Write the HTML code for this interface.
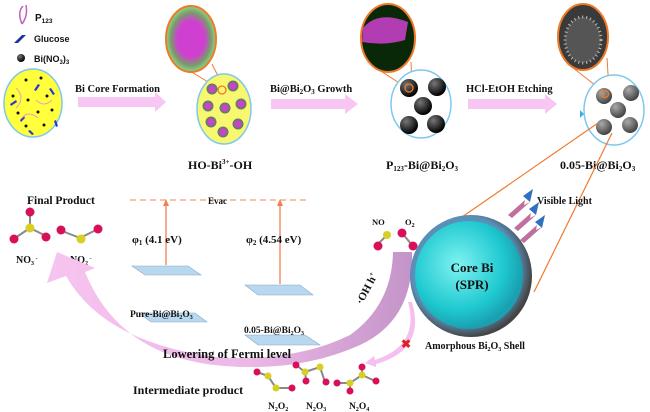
<!DOCTYPE html>
<html><head><meta charset="utf-8"><style>
html,body{margin:0;padding:0;background:#fff}
svg{display:block}
text{font-family:"Liberation Serif",serif;font-weight:bold;fill:#111}
.s{font-family:"Liberation Sans",sans-serif}
</style></head><body>
<svg width="650" height="412" viewBox="0 0 650 412" xmlns="http://www.w3.org/2000/svg">
<defs>
<linearGradient id="arc" x1="0" y1="0" x2="1" y2="0">
<stop offset="0" stop-color="#f7c4f0"/><stop offset="0.55" stop-color="#ecb8e6"/><stop offset="1" stop-color="#c494c8"/></linearGradient>
<radialGradient id="core" cx="0.4" cy="0.4" r="0.6"><stop offset="0" stop-color="#7ff2f2"/><stop offset="0.7" stop-color="#1fc9d0"/><stop offset="1" stop-color="#1aa0b0"/></radialGradient>
<radialGradient id="shell" cx="0.45" cy="0.45" r="0.55"><stop offset="0.8" stop-color="#5a8fb8"/><stop offset="1" stop-color="#444"/></radialGradient>
<radialGradient id="ball" cx="0.35" cy="0.3" r="0.7"><stop offset="0" stop-color="#777"/><stop offset="1" stop-color="#000"/></radialGradient>
<radialGradient id="gball" cx="0.35" cy="0.3" r="0.7"><stop offset="0" stop-color="#aaa"/><stop offset="1" stop-color="#444"/></radialGradient>
<radialGradient id="pk" cx="0.5" cy="0.5" r="0.5"><stop offset="0.4" stop-color="#d040d0"/><stop offset="1" stop-color="#4a8a4a"/></radialGradient>
<radialGradient id="pk2" cx="0.5" cy="0.5" r="0.5"><stop offset="0.55" stop-color="#d040d0"/><stop offset="0.8" stop-color="#7a9a6a"/><stop offset="1" stop-color="#8ad88a"/></radialGradient>
</defs>

<!-- legend -->
<path d="M22,24 Q17,12 23,6 M22,24 Q28,16 26,5" stroke="#c060c0" stroke-width="1.5" fill="none"/>
<text x="35" y="21" class="s" font-size="10">P<tspan font-size="6.5" dy="2">123</tspan></text>
<polygon points="14,43 22,35 26,35 18,43" fill="#2233aa"/>
<text x="34" y="42" class="s" font-size="9">Glucose</text>
<circle cx="21" cy="58" r="4" fill="url(#ball)"/>
<text x="34" y="62" class="s" font-size="9">Bi(NO<tspan font-size="6" dy="2">3</tspan><tspan dy="-2">)</tspan><tspan font-size="6" dy="2">3</tspan></text>

<!-- circle1 -->
<ellipse cx="33" cy="103" rx="29" ry="34" fill="#ffff3c" stroke="#7ec8ee" stroke-width="1.5"/>
<g fill="#111"><circle cx="26" cy="80" r="1.5"/><circle cx="41" cy="78" r="1.5"/><circle cx="13" cy="96" r="1.5"/><circle cx="28" cy="100" r="1.5"/><circle cx="47" cy="96" r="1.5"/><circle cx="18" cy="113" r="1.5"/><circle cx="38" cy="112" r="1.5"/><circle cx="52" cy="110" r="1.5"/><circle cx="26" cy="126" r="1.5"/><circle cx="44" cy="125" r="1.5"/></g>
<g fill="#2a3ad0"><polygon points="10,104 16,100 17,102 11,106"/><polygon points="34,90 38,84 40,85 36,91"/><polygon points="51,88 55,94 53,95 49,89"/><polygon points="20,120 24,116 25,118 21,122"/><polygon points="56,120 58,126 56,127 54,121"/><polygon points="30,130 34,134 32,135 28,131"/></g>
<path d="M16,88 q10,10 0,20 M36,100 q8,8 16,0 M22,118 q6,-8 16,0" stroke="#e8a0c0" fill="none"/>

<text x="75" y="92" font-size="10.5">Bi Core Formation</text>
<polygon points="78,97 155,97 155,92 166,102 155,112 155,107 78,107" fill="#f8c6f2"/>

<!-- circle2 -->
<line x1="175" y1="62" x2="218" y2="88" stroke="#f07a30"/><line x1="212" y1="64" x2="224" y2="88" stroke="#f07a30"/>
<ellipse cx="191" cy="39" rx="25" ry="33" fill="url(#pk2)" stroke="#ee7a28" stroke-width="2"/>
<ellipse cx="224" cy="109" rx="27" ry="35" fill="#f8f870" stroke="#7ec8ee" stroke-width="1.5"/>
<g fill="url(#pk)"><circle cx="212" cy="89" r="5.5"/><circle cx="233" cy="86" r="5.5"/><circle cx="208" cy="106" r="5.5"/><circle cx="225" cy="108" r="5.5"/><circle cx="241" cy="104" r="5.5"/><circle cx="211" cy="122" r="5.5"/><circle cx="238" cy="124" r="5.5"/><circle cx="223" cy="132" r="5.5"/></g>
<circle cx="222" cy="90" r="4" fill="none" stroke="#ee7a28" stroke-width="1.3"/>
<text x="188" y="169" font-size="12">HO-Bi<tspan font-size="7" dy="-5">3+</tspan><tspan dy="5">-OH</tspan></text>

<text x="270" y="92" font-size="10.5">Bi@Bi<tspan font-size="7" dy="2">2</tspan><tspan dy="-2">O</tspan><tspan font-size="7" dy="2">3</tspan><tspan dy="-2"> Growth</tspan></text>
<polygon points="271,99 345,99 345,94 358,104 345,114 345,109 271,109" fill="#f8c6f2"/>

<!-- circle3 -->
<line x1="370" y1="64" x2="407" y2="88" stroke="#f07a30"/><line x1="411" y1="62" x2="412" y2="86" stroke="#f07a30"/>
<ellipse cx="388" cy="38" rx="27" ry="34" fill="#082808" stroke="#ee7a28" stroke-width="2"/>
<path d="M363,28 Q378,10 408,22 L405,40 Q385,46 362,42Z" fill="#d040d0" opacity="0.85"/>
<ellipse cx="421" cy="104" rx="30" ry="34" fill="#fff" stroke="#7ec8ee" stroke-width="1.5"/>
<g fill="url(#ball)"><circle cx="409" cy="88" r="9"/><circle cx="437" cy="87" r="9"/><circle cx="423" cy="106" r="9"/><circle cx="409" cy="125" r="9"/><circle cx="436" cy="124" r="9"/></g>
<circle cx="409" cy="88" r="4" fill="none" stroke="#ee7a28" stroke-width="1.3"/>
<text x="386" y="169" font-size="12">P<tspan font-size="7" dy="2">123</tspan><tspan dy="-2">-Bi@Bi</tspan><tspan font-size="7" dy="2">2</tspan><tspan dy="-2">O</tspan><tspan font-size="7" dy="2">3</tspan></text>

<text x="466" y="92" font-size="10.5">HCl-EtOH Etching</text>
<polygon points="468,99 545,99 545,94 557,104 545,114 545,109 468,109" fill="#f8c6f2"/>
<polygon points="580,110 584,114 580,118" fill="#3ab0e8"/>

<!-- circle4 -->
<line x1="568" y1="64" x2="604" y2="92" stroke="#f07a30"/><line x1="607" y1="58" x2="609" y2="90" stroke="#f07a30"/>
<ellipse cx="583" cy="37" rx="25" ry="33" fill="#3a3a3a" stroke="#ee7a28" stroke-width="2"/>
<ellipse cx="583" cy="40" rx="18" ry="23" fill="#555" stroke="#bbb" stroke-width="3" stroke-dasharray="1 3"/>
<ellipse cx="614" cy="110" rx="30" ry="35" fill="#fff" stroke="#7ec8ee" stroke-width="1.5"/>
<g fill="url(#gball)"><circle cx="604" cy="96" r="8"/><circle cx="631" cy="93" r="8"/><circle cx="618" cy="110" r="8"/><circle cx="604" cy="127" r="8"/><circle cx="630" cy="125" r="8"/></g>
<circle cx="605" cy="94" r="3.5" fill="none" stroke="#ee7a28" stroke-width="1.3"/>
<text x="560" y="169" font-size="12">0.05-Bi@Bi<tspan font-size="7" dy="2">2</tspan><tspan dy="-2">O</tspan><tspan font-size="7" dy="2">3</tspan></text>
<line x1="598" y1="123" x2="462" y2="217" stroke="#f07a30" stroke-width="1.2"/>
<line x1="612" y1="133" x2="534" y2="292" stroke="#f07a30" stroke-width="1.2"/>

<!-- bottom left -->
<text x="27" y="204" font-size="11.5">Final Product</text>
<g>
<line x1="30" y1="212" x2="30" y2="228" stroke="#888" stroke-width="2"/><line x1="30" y1="228" x2="15" y2="238" stroke="#888" stroke-width="2"/><line x1="30" y1="228" x2="46" y2="236" stroke="#888" stroke-width="2"/>
<circle cx="30" cy="212" r="4.5" fill="#d8105a"/><circle cx="30" cy="228" r="4.5" fill="#d8d020"/><circle cx="14" cy="239" r="4.5" fill="#d8105a"/><circle cx="46" cy="237" r="4.5" fill="#d8105a"/>
<line x1="62" y1="231" x2="80" y2="238" stroke="#888" stroke-width="2"/><line x1="80" y1="238" x2="98" y2="229" stroke="#888" stroke-width="2"/>
<circle cx="61" cy="230" r="4.5" fill="#d8105a"/><circle cx="81" cy="239" r="4.5" fill="#d8d020"/><circle cx="98" cy="229" r="4.5" fill="#d8105a"/>
</g>
<text x="16" y="263" font-size="10">NO<tspan font-size="6" dy="2">3</tspan><tspan font-size="6" dy="-5"> -</tspan></text>
<text x="70" y="263" font-size="10">NO<tspan font-size="6" dy="2">2</tspan><tspan font-size="6" dy="-5"> -</tspan></text>

<line x1="130" y1="200" x2="310" y2="200" stroke="#f4a070" stroke-width="1.3" stroke-dasharray="6 4"/>
<text x="208" y="204" font-size="9">Evac</text>
<line x1="166" y1="265" x2="166" y2="205" stroke="#f08050" stroke-width="1.3"/><polygon points="163,206 166,199 169,206" fill="#f08050"/>
<line x1="280" y1="284" x2="280" y2="205" stroke="#f08050" stroke-width="1.3"/><polygon points="277,206 280,199 283,206" fill="#f08050"/>
<text x="132" y="243" font-size="11">φ<tspan font-size="7" dy="2">1</tspan><tspan dy="-2"> (4.1 eV)</tspan></text>
<text x="246" y="243" font-size="11">φ<tspan font-size="7" dy="2">2</tspan><tspan dy="-2"> (4.54 eV)</tspan></text>
<g fill="#b8d8f0" stroke="#8aa8c8" stroke-width="0.6">
<polygon points="132,266 188,266 201,275 145,275"/><polygon points="245,285 300,285 313,295 258,295"/>
<polygon points="139,313 195,313 207,322 151,322"/><polygon points="245,335 305,335 320,345 258,345"/>
</g>
<text x="130" y="317" font-size="9.5">Pure-Bi@Bi<tspan font-size="6" dy="2">2</tspan><tspan dy="-2">O</tspan><tspan font-size="6" dy="2">3</tspan></text>
<text x="244" y="333" font-size="9.5">0.05-Bi@Bi<tspan font-size="6" dy="2">2</tspan><tspan dy="-2">O</tspan><tspan font-size="6" dy="2">3</tspan></text>

<!-- big arc -->
<path d="M393,252 L412,252 Q414,320 360,345 Q300,372 225,366 Q120,358 85,272 L95,268 L57,252 L47,283 L66,276 Q105,345 225,358 Q300,360 350,335 Q392,305 393,252Z" fill="url(#arc)"/>
<text x="163" y="358" font-size="12.5">Lowering of Fermi level</text>
<text transform="translate(362,305) rotate(-62)" font-size="11">·OH  h<tspan font-size="7" dy="-4">+</tspan></text>

<!-- NO O2 -->
<text x="372" y="225" font-size="8.5">NO</text><text x="405" y="225" font-size="8.5">O<tspan font-size="6" dy="2">2</tspan></text>
<line x1="377" y1="245" x2="387" y2="235" stroke="#888" stroke-width="2"/><circle cx="387" cy="235" r="4" fill="#d8d020"/><circle cx="378" cy="246" r="4.5" fill="#d8105a"/>
<line x1="402" y1="233" x2="412" y2="245" stroke="#888" stroke-width="2"/><circle cx="402" cy="233" r="4.5" fill="#d8105a"/><circle cx="413" cy="246" r="4.5" fill="#d8105a"/>

<!-- sphere -->
<circle cx="471" cy="276" r="61" fill="url(#shell)"/>
<circle cx="469" cy="275" r="54" fill="url(#core)"/>
<text x="472" y="272" font-size="13" text-anchor="middle">Core Bi</text>
<text x="472" y="289" font-size="13" text-anchor="middle">(SPR)</text>
<text x="425" y="349" font-size="10">Amorphous Bi<tspan font-size="6" dy="2">2</tspan><tspan dy="-2">O</tspan><tspan font-size="6" dy="2">3</tspan><tspan dy="-2"> Shell</tspan></text>
<g fill="#c070a0"><polygon points="508,215 525,200 524,205 530,202 512,218"/><polygon points="514,228 531,213 530,218 536,215 518,231"/><polygon points="520,240 537,225 536,230 542,227 524,243"/></g>
<g fill="#3070c0"><polygon points="523,196 533,189 530,202"/><polygon points="529,209 539,202 536,215"/><polygon points="535,222 545,215 542,228"/></g>
<text x="537" y="204" font-size="10">Visible Light</text>

<!-- pink small arrow + x -->
<path d="M408,302 Q420,345 375,360 L374,356 L365,363 L376,367 L376,364 Q426,350 412,302Z" fill="#f5c0f0"/>
<text x="401" y="348" font-size="12" style="fill:#e02020">✖</text>
<text x="133" y="394" font-size="12">Intermediate product</text>
<g stroke="#888" stroke-width="2" fill="none"><path d="M257,372 L268,376 L276,388 L290,388"/><path d="M296,365 L305,372 L320,367 L325,382"/><path d="M337,383 L350,383 L362,375 L375,381"/><path d="M305,372 L306,380 M350,383 L350,390 M362,375 L362,368"/></g>
<g fill="#d8d020"><circle cx="268" cy="376" r="3.5"/><circle cx="276" cy="388" r="3.5"/><circle cx="305" cy="372" r="3.5"/><circle cx="320" cy="367" r="3.5"/><circle cx="350" cy="383" r="3.5"/><circle cx="362" cy="375" r="3.5"/></g>
<g fill="#d8105a"><circle cx="257" cy="372" r="3.5"/><circle cx="292" cy="388" r="3.5"/><circle cx="296" cy="365" r="3.5"/><circle cx="306" cy="381" r="3.5"/><circle cx="326" cy="382" r="3.5"/><circle cx="337" cy="383" r="3.5"/><circle cx="350" cy="391" r="3.5"/><circle cx="362" cy="367" r="3.5"/><circle cx="376" cy="381" r="3.5"/></g>
<text x="268" y="409" font-size="9.5">N<tspan font-size="6" dy="2">2</tspan><tspan dy="-2">O</tspan><tspan font-size="6" dy="2">2</tspan></text>
<text x="306" y="409" font-size="9.5">N<tspan font-size="6" dy="2">2</tspan><tspan dy="-2">O</tspan><tspan font-size="6" dy="2">3</tspan></text>
<text x="349" y="409" font-size="9.5">N<tspan font-size="6" dy="2">2</tspan><tspan dy="-2">O</tspan><tspan font-size="6" dy="2">4</tspan></text>
</svg>
</body></html>
